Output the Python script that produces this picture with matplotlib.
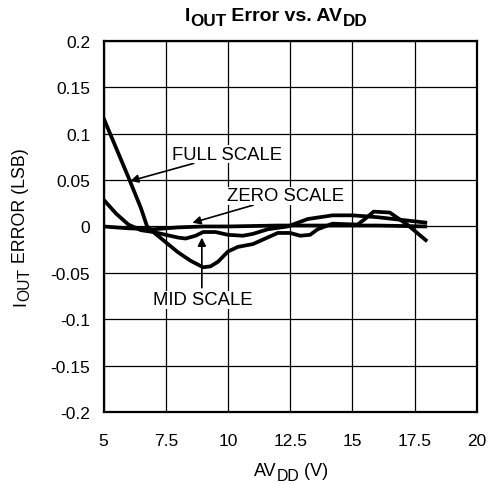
import matplotlib
matplotlib.use('Agg')
import matplotlib.pyplot as plt
from matplotlib.transforms import IdentityTransform

plt.rcParams['font.family'] = 'Liberation Sans'

# curves
full_x = [5.0, 5.5, 6.0, 6.5, 6.75, 7.0, 7.5, 8.0, 8.5, 9.0, 9.3, 9.6, 10.0, 10.4, 11.0,
          11.5, 12.0, 12.5, 12.9, 13.3, 13.6, 14.2, 15.2, 15.5, 15.85, 16.5, 17.2, 18.0]
full_y = [0.117, 0.085, 0.053, 0.020, 0.0, -0.006, -0.017, -0.028, -0.037, -0.044, -0.043,
          -0.038, -0.027, -0.022, -0.019, -0.013, -0.007, -0.007, -0.010, -0.009, -0.003,
          0.003, 0.002, 0.008, 0.016, 0.015, 0.002, -0.016]

mid_x = [5.0, 5.5, 6.0, 6.5, 7.0, 7.5, 8.0, 8.3, 8.7, 9.0, 9.5, 10.0, 10.6, 11.0, 11.6,
         12.4, 13.2, 14.2, 15.0, 16.0, 17.0, 18.0]
mid_y = [0.029, 0.014, 0.002, -0.004, -0.006, -0.009, -0.012, -0.013, -0.010, -0.006,
         -0.006, -0.009, -0.010, -0.008, -0.003, 0.0, 0.008, 0.012, 0.012, 0.010, 0.007, 0.004]

zero_x = [5, 6, 7, 8, 9, 10, 12, 14, 16, 18]
zero_y = [0.0, -0.002, -0.003, -0.001, 0.0, 0.0, 0.001, 0.001, 0.001, 0.0]

xticks = [5, 7.5, 10, 12.5, 15, 17.5, 20]
xtick_labels = ['5', '7.5', '10', '12.5', '15', '17.5', '20']
yticks = [0.2, 0.15, 0.1, 0.05, 0, -0.05, -0.1, -0.15, -0.2]
ytick_labels = ['0.2', '0.15', '0.1', '0.05', '0', '-0.05', '-0.1', '-0.15', '-0.2']

fig = plt.figure(figsize=(4.92, 4.85), dpi=100)
ax = fig.add_axes([0.2104, 0.1485, 0.759, 0.765])

for xs, ys in [(full_x, full_y), (mid_x, mid_y), (zero_x, zero_y)]:
    ax.plot(xs, ys, color='black', lw=2.7, solid_joinstyle='round', solid_capstyle='butt')

ax.set_xlim(5, 20)
ax.set_ylim(-0.2, 0.2)
ax.set_xticks(xticks)
ax.set_xticklabels(xtick_labels)
ax.set_yticks(yticks)
ax.set_yticklabels(ytick_labels)
ax.tick_params(length=0, labelsize=12.5)
ax.tick_params(axis='y', pad=9.5)
ax.tick_params(axis='x', pad=15)
ax.grid(True, color='black', lw=0.9)
for s in ax.spines.values():
    s.set_linewidth(1.6)

arrow = dict(arrowstyle='-|>', color='black', lw=1.2, mutation_scale=12, shrinkA=0, shrinkB=0)
box = dict(fc='white', ec='none', pad=0.5)
ax.annotate('FULL SCALE', xy=(6.07, 0.049), xytext=(7.75, 0.078), fontsize=13.3,
            va='center', ha='left', arrowprops=arrow, bbox=box)
ax.annotate('ZERO SCALE', xy=(8.57, 0.004), xytext=(9.95, 0.033), fontsize=13.3,
            va='center', ha='left', arrowprops=arrow, bbox=box)
ax.annotate('', xy=(8.95, -0.012), xytext=(8.95, -0.066), arrowprops=arrow)
ax.text(9.0, -0.079, 'MID SCALE', fontsize=13.3, va='center', ha='center', bbox=box)

renderer = fig.canvas.get_renderer()


def sub_text(cx, cy, parts, size, weight='normal', vertical=False, ratio=0.88):
    # parts: (string, is_subscript); cx, cy = centre along the text run / baseline, in pixels
    texts = []
    for s, sub in parts:
        fs = size * ratio if sub else size
        t = fig.text(0, 0, s, fontsize=fs, fontweight=weight, transform=IdentityTransform(),
                     ha='left', va='baseline', rotation=90 if vertical else 0,
                     rotation_mode='anchor')
        texts.append((t, sub))
    lens = []
    for t, _ in texts:
        bb = t.get_window_extent(renderer)
        lens.append(bb.height if vertical else bb.width)
    pos = -sum(lens) / 2
    shift = size * 100 / 72 * 0.25
    for (t, sub), L in zip(texts, lens):
        off = shift if sub else 0
        if vertical:
            t.set_position((cx + off, cy + pos))
        else:
            t.set_position((cx + pos, cy - off))
        pos += L


H = 485
sub_text(276, H - 21, [('I', False), ('OUT', True), (' Error vs. AV', False), ('DD', True)],
         14, weight='bold')
sub_text(291, H - 476, [('AV', False), ('DD', True), (' (V)', False)], 13)
sub_text(25, H - 227, [('I', False), ('OUT', True), (' ERROR (LSB)', False)], 12.8, vertical=True)

fig.savefig('out.png', dpi=100)
